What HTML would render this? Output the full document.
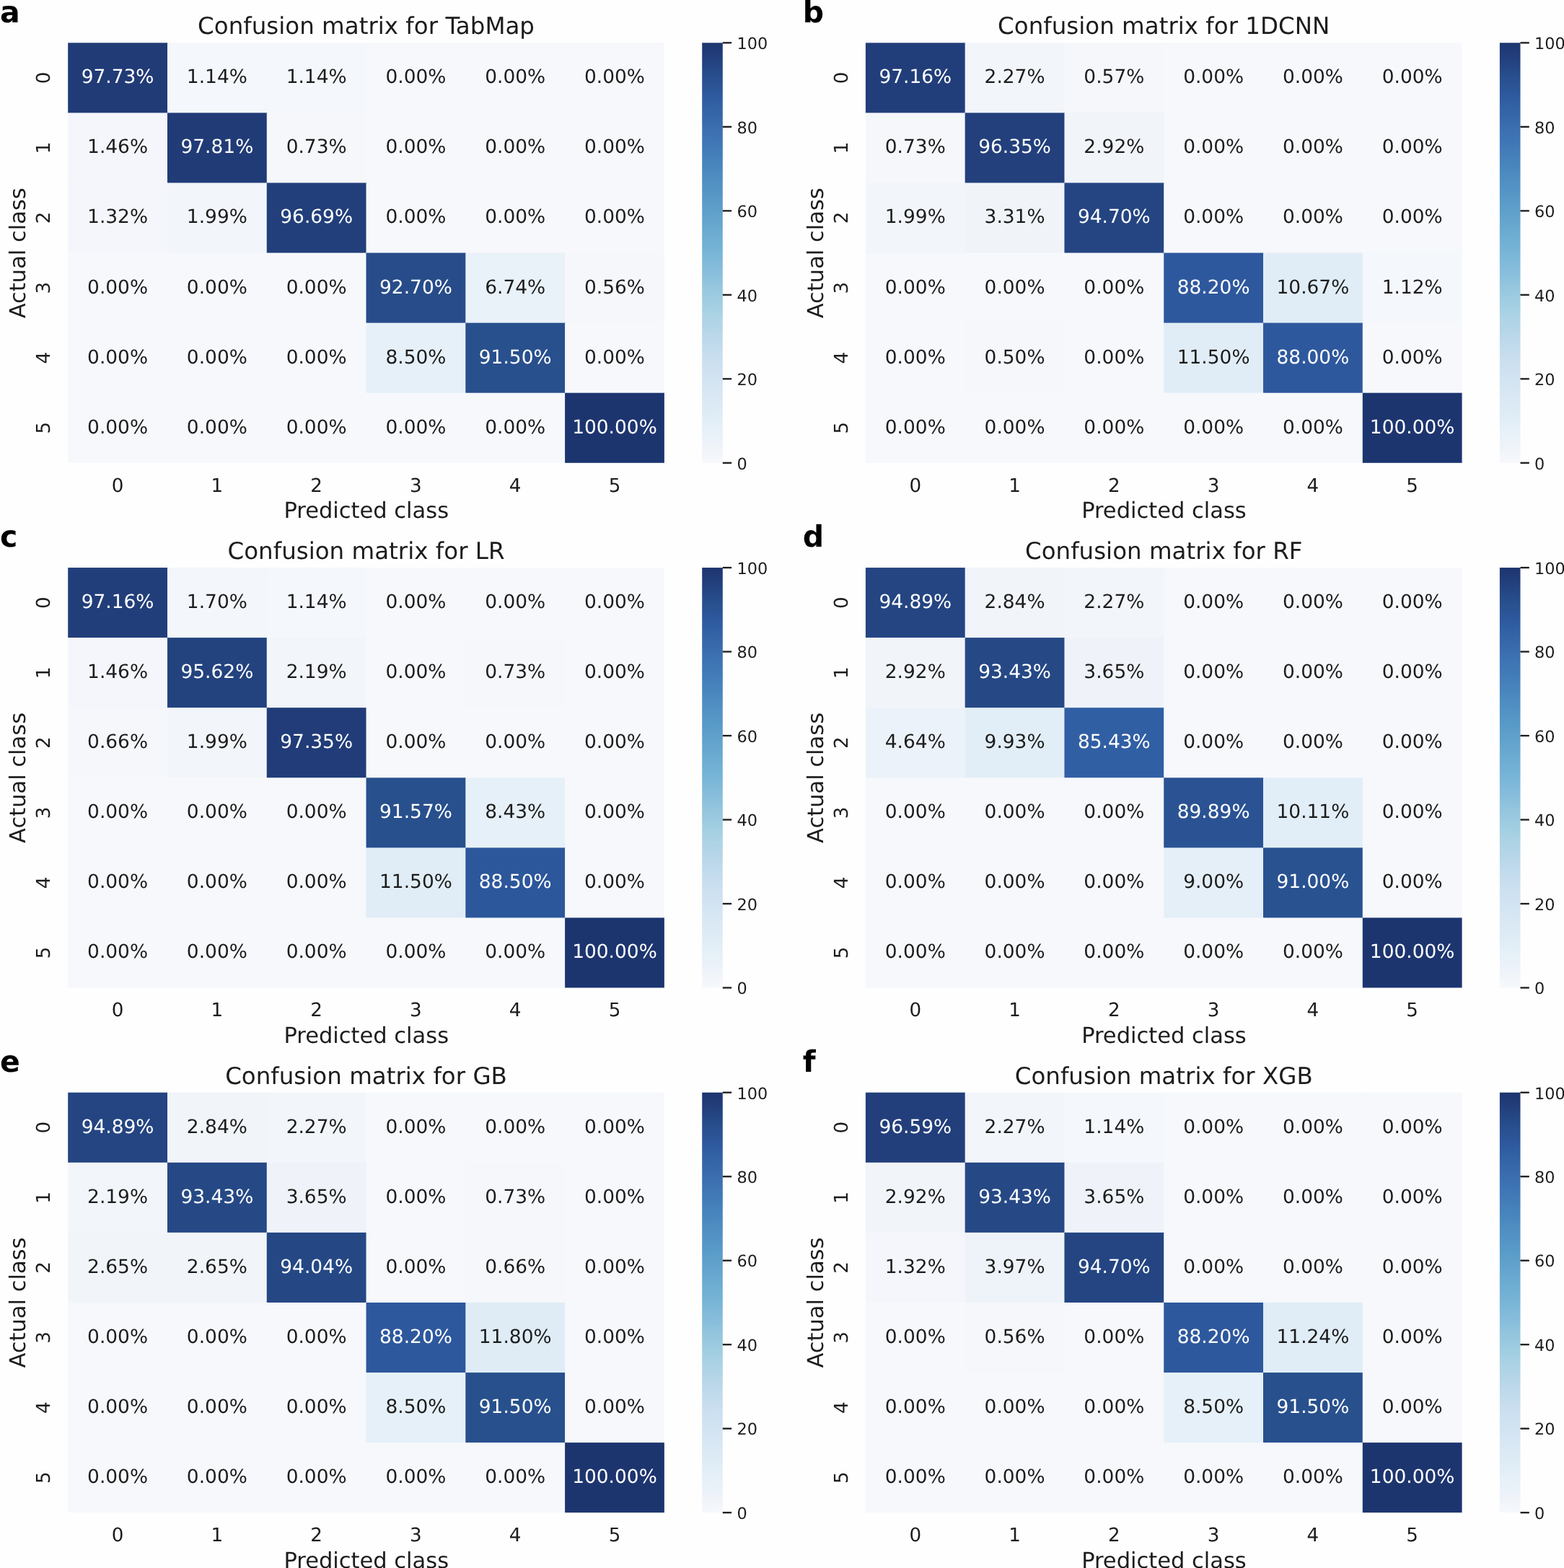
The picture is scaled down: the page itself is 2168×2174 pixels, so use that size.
<!DOCTYPE html>
<html><head><meta charset="utf-8"><title>Confusion matrices</title>
<style>
html,body{margin:0;padding:0;background:#fefefe;}
body{width:2168px;height:2174px;overflow:hidden;}
svg{display:block;}
text{font-family:"DejaVu Sans", "Liberation Sans", sans-serif;text-rendering:geometricPrecision;}
.an{font-size:26.45px;text-anchor:middle;}
.tk{font-size:26.20px;text-anchor:middle;fill:#1c1c1c;}
.lb{font-size:30.50px;text-anchor:middle;fill:#1c1c1c;}
.ti{font-size:32.50px;text-anchor:middle;fill:#1c1c1c;}
.cb{font-size:22.40px;fill:#1c1c1c;}
.pl{font-size:41.00px;font-weight:bold;fill:#000;}
</style></head><body>
<svg width="2168" height="2174" viewBox="0 0 2168 2174">
<rect x="0" y="0" width="2168" height="2174" fill="#fefefe"/>
<defs><linearGradient id="cbg" x1="0" y1="1" x2="0" y2="0">
<stop offset="0.0000" stop-color="#f6f8fc"/><stop offset="0.0250" stop-color="#f1f5f9"/><stop offset="0.0500" stop-color="#ecf2f9"/><stop offset="0.0750" stop-color="#e7f1f8"/><stop offset="0.1000" stop-color="#e2eef7"/><stop offset="0.1250" stop-color="#ddebf5"/><stop offset="0.1500" stop-color="#dae9f4"/><stop offset="0.1750" stop-color="#d6e6f3"/><stop offset="0.2000" stop-color="#d2e3f2"/><stop offset="0.2250" stop-color="#cee1f1"/><stop offset="0.2500" stop-color="#c9deef"/><stop offset="0.2750" stop-color="#c2dbed"/><stop offset="0.3000" stop-color="#bbd8ea"/><stop offset="0.3250" stop-color="#b3d5e7"/><stop offset="0.3500" stop-color="#acd3e5"/><stop offset="0.3750" stop-color="#a4cfe2"/><stop offset="0.4000" stop-color="#9bcae0"/><stop offset="0.4250" stop-color="#93c5de"/><stop offset="0.4500" stop-color="#8abfdc"/><stop offset="0.4750" stop-color="#82bada"/><stop offset="0.5000" stop-color="#78b5d7"/><stop offset="0.5250" stop-color="#72b0d4"/><stop offset="0.5500" stop-color="#6cabd1"/><stop offset="0.5750" stop-color="#65a5ce"/><stop offset="0.6000" stop-color="#5fa0cb"/><stop offset="0.6250" stop-color="#589ac8"/><stop offset="0.6500" stop-color="#5494c5"/><stop offset="0.6750" stop-color="#508ec2"/><stop offset="0.7000" stop-color="#4a87be"/><stop offset="0.7250" stop-color="#4681bb"/><stop offset="0.7500" stop-color="#417ab7"/><stop offset="0.7750" stop-color="#3e74b3"/><stop offset="0.8000" stop-color="#3b6eae"/><stop offset="0.8250" stop-color="#3667a9"/><stop offset="0.8500" stop-color="#3261a4"/><stop offset="0.8750" stop-color="#2e599f"/><stop offset="0.9000" stop-color="#2b5394"/><stop offset="0.9250" stop-color="#274d8b"/><stop offset="0.9500" stop-color="#244481"/><stop offset="0.9750" stop-color="#213c78"/><stop offset="1.0000" stop-color="#1d356f"/>
</linearGradient></defs>
<g>
<rect x="94.20" y="59.35" width="138.38" height="97.67" fill="#213b77"/><rect x="231.98" y="59.35" width="138.38" height="97.67" fill="#f4f7fb"/><rect x="369.76" y="59.35" width="138.38" height="97.67" fill="#f4f7fb"/><rect x="507.54" y="59.35" width="138.38" height="97.67" fill="#f6f8fc"/><rect x="645.32" y="59.35" width="138.38" height="97.67" fill="#f6f8fc"/><rect x="783.10" y="59.35" width="137.78" height="97.67" fill="#f6f8fc"/><rect x="94.20" y="156.43" width="138.38" height="97.67" fill="#f4f6fb"/><rect x="231.98" y="156.43" width="138.38" height="97.67" fill="#213b77"/><rect x="369.76" y="156.43" width="138.38" height="97.67" fill="#f5f7fb"/><rect x="507.54" y="156.43" width="138.38" height="97.67" fill="#f6f8fc"/><rect x="645.32" y="156.43" width="138.38" height="97.67" fill="#f6f8fc"/><rect x="783.10" y="156.43" width="137.78" height="97.67" fill="#f6f8fc"/><rect x="94.20" y="253.50" width="138.38" height="97.67" fill="#f4f6fb"/><rect x="231.98" y="253.50" width="138.38" height="97.67" fill="#f2f5fa"/><rect x="369.76" y="253.50" width="138.38" height="97.67" fill="#223f7b"/><rect x="507.54" y="253.50" width="138.38" height="97.67" fill="#f6f8fc"/><rect x="645.32" y="253.50" width="138.38" height="97.67" fill="#f6f8fc"/><rect x="783.10" y="253.50" width="137.78" height="97.67" fill="#f6f8fc"/><rect x="94.20" y="350.58" width="138.38" height="97.67" fill="#f6f8fc"/><rect x="231.98" y="350.58" width="138.38" height="97.67" fill="#f6f8fc"/><rect x="369.76" y="350.58" width="138.38" height="97.67" fill="#f6f8fc"/><rect x="507.54" y="350.58" width="138.38" height="97.67" fill="#274c89"/><rect x="645.32" y="350.58" width="138.38" height="97.67" fill="#e9f1f9"/><rect x="783.10" y="350.58" width="137.78" height="97.67" fill="#f5f7fb"/><rect x="94.20" y="447.65" width="138.38" height="97.67" fill="#f6f8fc"/><rect x="231.98" y="447.65" width="138.38" height="97.67" fill="#f6f8fc"/><rect x="369.76" y="447.65" width="138.38" height="97.67" fill="#f6f8fc"/><rect x="507.54" y="447.65" width="138.38" height="97.67" fill="#e6f0f8"/><rect x="645.32" y="447.65" width="138.38" height="97.67" fill="#28508d"/><rect x="783.10" y="447.65" width="137.78" height="97.67" fill="#f6f8fc"/><rect x="94.20" y="544.73" width="138.38" height="97.08" fill="#f6f8fc"/><rect x="231.98" y="544.73" width="138.38" height="97.08" fill="#f6f8fc"/><rect x="369.76" y="544.73" width="138.38" height="97.08" fill="#f6f8fc"/><rect x="507.54" y="544.73" width="138.38" height="97.08" fill="#f6f8fc"/><rect x="645.32" y="544.73" width="138.38" height="97.08" fill="#f6f8fc"/><rect x="783.10" y="544.73" width="137.78" height="97.08" fill="#1d356f"/>
<text class="an" x="163.09" y="115.34" fill="#ffffff">97.73%</text><text class="an" x="300.87" y="115.34" fill="#1c1c1c">1.14%</text><text class="an" x="438.65" y="115.34" fill="#1c1c1c">1.14%</text><text class="an" x="576.43" y="115.34" fill="#1c1c1c">0.00%</text><text class="an" x="714.21" y="115.34" fill="#1c1c1c">0.00%</text><text class="an" x="851.99" y="115.34" fill="#1c1c1c">0.00%</text>
<text class="an" x="163.09" y="212.41" fill="#1c1c1c">1.46%</text><text class="an" x="300.87" y="212.41" fill="#ffffff">97.81%</text><text class="an" x="438.65" y="212.41" fill="#1c1c1c">0.73%</text><text class="an" x="576.43" y="212.41" fill="#1c1c1c">0.00%</text><text class="an" x="714.21" y="212.41" fill="#1c1c1c">0.00%</text><text class="an" x="851.99" y="212.41" fill="#1c1c1c">0.00%</text>
<text class="an" x="163.09" y="309.49" fill="#1c1c1c">1.32%</text><text class="an" x="300.87" y="309.49" fill="#1c1c1c">1.99%</text><text class="an" x="438.65" y="309.49" fill="#ffffff">96.69%</text><text class="an" x="576.43" y="309.49" fill="#1c1c1c">0.00%</text><text class="an" x="714.21" y="309.49" fill="#1c1c1c">0.00%</text><text class="an" x="851.99" y="309.49" fill="#1c1c1c">0.00%</text>
<text class="an" x="163.09" y="406.56" fill="#1c1c1c">0.00%</text><text class="an" x="300.87" y="406.56" fill="#1c1c1c">0.00%</text><text class="an" x="438.65" y="406.56" fill="#1c1c1c">0.00%</text><text class="an" x="576.43" y="406.56" fill="#ffffff">92.70%</text><text class="an" x="714.21" y="406.56" fill="#1c1c1c">6.74%</text><text class="an" x="851.99" y="406.56" fill="#1c1c1c">0.56%</text>
<text class="an" x="163.09" y="503.64" fill="#1c1c1c">0.00%</text><text class="an" x="300.87" y="503.64" fill="#1c1c1c">0.00%</text><text class="an" x="438.65" y="503.64" fill="#1c1c1c">0.00%</text><text class="an" x="576.43" y="503.64" fill="#1c1c1c">8.50%</text><text class="an" x="714.21" y="503.64" fill="#ffffff">91.50%</text><text class="an" x="851.99" y="503.64" fill="#1c1c1c">0.00%</text>
<text class="an" x="163.09" y="600.71" fill="#1c1c1c">0.00%</text><text class="an" x="300.87" y="600.71" fill="#1c1c1c">0.00%</text><text class="an" x="438.65" y="600.71" fill="#1c1c1c">0.00%</text><text class="an" x="576.43" y="600.71" fill="#1c1c1c">0.00%</text><text class="an" x="714.21" y="600.71" fill="#1c1c1c">0.00%</text><text class="an" x="851.99" y="600.71" fill="#ffffff">100.00%</text>
<text class="tk" x="163.09" y="681.60">0</text><text class="tk" x="300.87" y="681.60">1</text><text class="tk" x="438.65" y="681.60">2</text><text class="tk" x="576.43" y="681.60">3</text><text class="tk" x="714.21" y="681.60">4</text><text class="tk" x="851.99" y="681.60">5</text>
<text class="tk" transform="translate(69.43 107.89) rotate(-90)" x="0" y="0">0</text><text class="tk" transform="translate(69.43 204.96) rotate(-90)" x="0" y="0">1</text><text class="tk" transform="translate(69.43 302.04) rotate(-90)" x="0" y="0">2</text><text class="tk" transform="translate(69.43 399.11) rotate(-90)" x="0" y="0">3</text><text class="tk" transform="translate(69.43 496.19) rotate(-90)" x="0" y="0">4</text><text class="tk" transform="translate(69.43 593.26) rotate(-90)" x="0" y="0">5</text>
<text class="lb" x="507.74" y="718.10">Predicted class</text>
<text class="lb" transform="translate(34.90 350.73) rotate(-90)" x="0" y="0">Actual class</text>
<text class="ti" x="507.54" y="47.43">Confusion matrix for TabMap</text>
<rect x="973.20" y="59.35" width="28.60" height="582.45" fill="url(#cbg)"/>
<rect x="1001.80" y="640.65" width="12.30" height="2.30" fill="#1c1c1c"/><text class="cb" x="1021.40" y="650.55">0</text><rect x="1001.80" y="524.16" width="12.30" height="2.30" fill="#1c1c1c"/><text class="cb" x="1021.40" y="534.06">20</text><rect x="1001.80" y="407.67" width="12.30" height="2.30" fill="#1c1c1c"/><text class="cb" x="1021.40" y="417.57">40</text><rect x="1001.80" y="291.18" width="12.30" height="2.30" fill="#1c1c1c"/><text class="cb" x="1021.40" y="301.08">60</text><rect x="1001.80" y="174.69" width="12.30" height="2.30" fill="#1c1c1c"/><text class="cb" x="1021.40" y="184.59">80</text><rect x="1001.80" y="58.20" width="12.30" height="2.30" fill="#1c1c1c"/><text class="cb" x="1021.40" y="68.10">100</text>
<text class="pl" x="-0.14" y="30.75">a</text>
</g>
<g>
<rect x="1199.90" y="59.35" width="138.38" height="97.67" fill="#223e7a"/><rect x="1337.68" y="59.35" width="138.38" height="97.67" fill="#f2f5fa"/><rect x="1475.46" y="59.35" width="138.38" height="97.67" fill="#f5f7fb"/><rect x="1613.24" y="59.35" width="138.38" height="97.67" fill="#f6f8fc"/><rect x="1751.02" y="59.35" width="138.38" height="97.67" fill="#f6f8fc"/><rect x="1888.80" y="59.35" width="137.78" height="97.67" fill="#f6f8fc"/><rect x="1199.90" y="156.43" width="138.38" height="97.67" fill="#f5f7fb"/><rect x="1337.68" y="156.43" width="138.38" height="97.67" fill="#23407c"/><rect x="1475.46" y="156.43" width="138.38" height="97.67" fill="#f1f4f9"/><rect x="1613.24" y="156.43" width="138.38" height="97.67" fill="#f6f8fc"/><rect x="1751.02" y="156.43" width="138.38" height="97.67" fill="#f6f8fc"/><rect x="1888.80" y="156.43" width="137.78" height="97.67" fill="#f6f8fc"/><rect x="1199.90" y="253.50" width="138.38" height="97.67" fill="#f2f5fa"/><rect x="1337.68" y="253.50" width="138.38" height="97.67" fill="#f0f4f9"/><rect x="1475.46" y="253.50" width="138.38" height="97.67" fill="#244582"/><rect x="1613.24" y="253.50" width="138.38" height="97.67" fill="#f6f8fc"/><rect x="1751.02" y="253.50" width="138.38" height="97.67" fill="#f6f8fc"/><rect x="1888.80" y="253.50" width="137.78" height="97.67" fill="#f6f8fc"/><rect x="1199.90" y="350.58" width="138.38" height="97.67" fill="#f6f8fc"/><rect x="1337.68" y="350.58" width="138.38" height="97.67" fill="#f6f8fc"/><rect x="1475.46" y="350.58" width="138.38" height="97.67" fill="#f6f8fc"/><rect x="1613.24" y="350.58" width="138.38" height="97.67" fill="#2e589d"/><rect x="1751.02" y="350.58" width="138.38" height="97.67" fill="#e1edf6"/><rect x="1888.80" y="350.58" width="137.78" height="97.67" fill="#f4f7fb"/><rect x="1199.90" y="447.65" width="138.38" height="97.67" fill="#f6f8fc"/><rect x="1337.68" y="447.65" width="138.38" height="97.67" fill="#f5f7fb"/><rect x="1475.46" y="447.65" width="138.38" height="97.67" fill="#f6f8fc"/><rect x="1613.24" y="447.65" width="138.38" height="97.67" fill="#e0edf6"/><rect x="1751.02" y="447.65" width="138.38" height="97.67" fill="#2e589d"/><rect x="1888.80" y="447.65" width="137.78" height="97.67" fill="#f6f8fc"/><rect x="1199.90" y="544.73" width="138.38" height="97.08" fill="#f6f8fc"/><rect x="1337.68" y="544.73" width="138.38" height="97.08" fill="#f6f8fc"/><rect x="1475.46" y="544.73" width="138.38" height="97.08" fill="#f6f8fc"/><rect x="1613.24" y="544.73" width="138.38" height="97.08" fill="#f6f8fc"/><rect x="1751.02" y="544.73" width="138.38" height="97.08" fill="#f6f8fc"/><rect x="1888.80" y="544.73" width="137.78" height="97.08" fill="#1d356f"/>
<text class="an" x="1268.79" y="115.34" fill="#ffffff">97.16%</text><text class="an" x="1406.57" y="115.34" fill="#1c1c1c">2.27%</text><text class="an" x="1544.35" y="115.34" fill="#1c1c1c">0.57%</text><text class="an" x="1682.13" y="115.34" fill="#1c1c1c">0.00%</text><text class="an" x="1819.91" y="115.34" fill="#1c1c1c">0.00%</text><text class="an" x="1957.69" y="115.34" fill="#1c1c1c">0.00%</text>
<text class="an" x="1268.79" y="212.41" fill="#1c1c1c">0.73%</text><text class="an" x="1406.57" y="212.41" fill="#ffffff">96.35%</text><text class="an" x="1544.35" y="212.41" fill="#1c1c1c">2.92%</text><text class="an" x="1682.13" y="212.41" fill="#1c1c1c">0.00%</text><text class="an" x="1819.91" y="212.41" fill="#1c1c1c">0.00%</text><text class="an" x="1957.69" y="212.41" fill="#1c1c1c">0.00%</text>
<text class="an" x="1268.79" y="309.49" fill="#1c1c1c">1.99%</text><text class="an" x="1406.57" y="309.49" fill="#1c1c1c">3.31%</text><text class="an" x="1544.35" y="309.49" fill="#ffffff">94.70%</text><text class="an" x="1682.13" y="309.49" fill="#1c1c1c">0.00%</text><text class="an" x="1819.91" y="309.49" fill="#1c1c1c">0.00%</text><text class="an" x="1957.69" y="309.49" fill="#1c1c1c">0.00%</text>
<text class="an" x="1268.79" y="406.56" fill="#1c1c1c">0.00%</text><text class="an" x="1406.57" y="406.56" fill="#1c1c1c">0.00%</text><text class="an" x="1544.35" y="406.56" fill="#1c1c1c">0.00%</text><text class="an" x="1682.13" y="406.56" fill="#ffffff">88.20%</text><text class="an" x="1819.91" y="406.56" fill="#1c1c1c">10.67%</text><text class="an" x="1957.69" y="406.56" fill="#1c1c1c">1.12%</text>
<text class="an" x="1268.79" y="503.64" fill="#1c1c1c">0.00%</text><text class="an" x="1406.57" y="503.64" fill="#1c1c1c">0.50%</text><text class="an" x="1544.35" y="503.64" fill="#1c1c1c">0.00%</text><text class="an" x="1682.13" y="503.64" fill="#1c1c1c">11.50%</text><text class="an" x="1819.91" y="503.64" fill="#ffffff">88.00%</text><text class="an" x="1957.69" y="503.64" fill="#1c1c1c">0.00%</text>
<text class="an" x="1268.79" y="600.71" fill="#1c1c1c">0.00%</text><text class="an" x="1406.57" y="600.71" fill="#1c1c1c">0.00%</text><text class="an" x="1544.35" y="600.71" fill="#1c1c1c">0.00%</text><text class="an" x="1682.13" y="600.71" fill="#1c1c1c">0.00%</text><text class="an" x="1819.91" y="600.71" fill="#1c1c1c">0.00%</text><text class="an" x="1957.69" y="600.71" fill="#ffffff">100.00%</text>
<text class="tk" x="1268.79" y="681.60">0</text><text class="tk" x="1406.57" y="681.60">1</text><text class="tk" x="1544.35" y="681.60">2</text><text class="tk" x="1682.13" y="681.60">3</text><text class="tk" x="1819.91" y="681.60">4</text><text class="tk" x="1957.69" y="681.60">5</text>
<text class="tk" transform="translate(1175.13 107.89) rotate(-90)" x="0" y="0">0</text><text class="tk" transform="translate(1175.13 204.96) rotate(-90)" x="0" y="0">1</text><text class="tk" transform="translate(1175.13 302.04) rotate(-90)" x="0" y="0">2</text><text class="tk" transform="translate(1175.13 399.11) rotate(-90)" x="0" y="0">3</text><text class="tk" transform="translate(1175.13 496.19) rotate(-90)" x="0" y="0">4</text><text class="tk" transform="translate(1175.13 593.26) rotate(-90)" x="0" y="0">5</text>
<text class="lb" x="1613.44" y="718.10">Predicted class</text>
<text class="lb" transform="translate(1140.60 350.73) rotate(-90)" x="0" y="0">Actual class</text>
<text class="ti" x="1613.24" y="47.43">Confusion matrix for 1DCNN</text>
<rect x="2078.90" y="59.35" width="28.60" height="582.45" fill="url(#cbg)"/>
<rect x="2107.50" y="640.65" width="12.30" height="2.30" fill="#1c1c1c"/><text class="cb" x="2127.10" y="650.55">0</text><rect x="2107.50" y="524.16" width="12.30" height="2.30" fill="#1c1c1c"/><text class="cb" x="2127.10" y="534.06">20</text><rect x="2107.50" y="407.67" width="12.30" height="2.30" fill="#1c1c1c"/><text class="cb" x="2127.10" y="417.57">40</text><rect x="2107.50" y="291.18" width="12.30" height="2.30" fill="#1c1c1c"/><text class="cb" x="2127.10" y="301.08">60</text><rect x="2107.50" y="174.69" width="12.30" height="2.30" fill="#1c1c1c"/><text class="cb" x="2127.10" y="184.59">80</text><rect x="2107.50" y="58.20" width="12.30" height="2.30" fill="#1c1c1c"/><text class="cb" x="2127.10" y="68.10">100</text>
<text class="pl" x="1112.85" y="30.75">b</text>
</g>
<g>
<rect x="94.20" y="787.05" width="138.38" height="97.67" fill="#223e7a"/><rect x="231.98" y="787.05" width="138.38" height="97.67" fill="#f3f6fa"/><rect x="369.76" y="787.05" width="138.38" height="97.67" fill="#f4f7fb"/><rect x="507.54" y="787.05" width="138.38" height="97.67" fill="#f6f8fc"/><rect x="645.32" y="787.05" width="138.38" height="97.67" fill="#f6f8fc"/><rect x="783.10" y="787.05" width="137.78" height="97.67" fill="#f6f8fc"/><rect x="94.20" y="884.12" width="138.38" height="97.67" fill="#f4f6fb"/><rect x="231.98" y="884.12" width="138.38" height="97.67" fill="#23437f"/><rect x="369.76" y="884.12" width="138.38" height="97.67" fill="#f2f5fa"/><rect x="507.54" y="884.12" width="138.38" height="97.67" fill="#f6f8fc"/><rect x="645.32" y="884.12" width="138.38" height="97.67" fill="#f5f7fb"/><rect x="783.10" y="884.12" width="137.78" height="97.67" fill="#f6f8fc"/><rect x="94.20" y="981.20" width="138.38" height="97.67" fill="#f5f7fb"/><rect x="231.98" y="981.20" width="138.38" height="97.67" fill="#f2f5fa"/><rect x="369.76" y="981.20" width="138.38" height="97.67" fill="#213c78"/><rect x="507.54" y="981.20" width="138.38" height="97.67" fill="#f6f8fc"/><rect x="645.32" y="981.20" width="138.38" height="97.67" fill="#f6f8fc"/><rect x="783.10" y="981.20" width="137.78" height="97.67" fill="#f6f8fc"/><rect x="94.20" y="1078.28" width="138.38" height="97.67" fill="#f6f8fc"/><rect x="231.98" y="1078.28" width="138.38" height="97.67" fill="#f6f8fc"/><rect x="369.76" y="1078.28" width="138.38" height="97.67" fill="#f6f8fc"/><rect x="507.54" y="1078.28" width="138.38" height="97.67" fill="#28508d"/><rect x="645.32" y="1078.28" width="138.38" height="97.67" fill="#e6f0f8"/><rect x="783.10" y="1078.28" width="137.78" height="97.67" fill="#f6f8fc"/><rect x="94.20" y="1175.35" width="138.38" height="97.67" fill="#f6f8fc"/><rect x="231.98" y="1175.35" width="138.38" height="97.67" fill="#f6f8fc"/><rect x="369.76" y="1175.35" width="138.38" height="97.67" fill="#f6f8fc"/><rect x="507.54" y="1175.35" width="138.38" height="97.67" fill="#e0edf6"/><rect x="645.32" y="1175.35" width="138.38" height="97.67" fill="#2d579b"/><rect x="783.10" y="1175.35" width="137.78" height="97.67" fill="#f6f8fc"/><rect x="94.20" y="1272.42" width="138.38" height="97.08" fill="#f6f8fc"/><rect x="231.98" y="1272.42" width="138.38" height="97.08" fill="#f6f8fc"/><rect x="369.76" y="1272.42" width="138.38" height="97.08" fill="#f6f8fc"/><rect x="507.54" y="1272.42" width="138.38" height="97.08" fill="#f6f8fc"/><rect x="645.32" y="1272.42" width="138.38" height="97.08" fill="#f6f8fc"/><rect x="783.10" y="1272.42" width="137.78" height="97.08" fill="#1d356f"/>
<text class="an" x="163.09" y="843.04" fill="#ffffff">97.16%</text><text class="an" x="300.87" y="843.04" fill="#1c1c1c">1.70%</text><text class="an" x="438.65" y="843.04" fill="#1c1c1c">1.14%</text><text class="an" x="576.43" y="843.04" fill="#1c1c1c">0.00%</text><text class="an" x="714.21" y="843.04" fill="#1c1c1c">0.00%</text><text class="an" x="851.99" y="843.04" fill="#1c1c1c">0.00%</text>
<text class="an" x="163.09" y="940.11" fill="#1c1c1c">1.46%</text><text class="an" x="300.87" y="940.11" fill="#ffffff">95.62%</text><text class="an" x="438.65" y="940.11" fill="#1c1c1c">2.19%</text><text class="an" x="576.43" y="940.11" fill="#1c1c1c">0.00%</text><text class="an" x="714.21" y="940.11" fill="#1c1c1c">0.73%</text><text class="an" x="851.99" y="940.11" fill="#1c1c1c">0.00%</text>
<text class="an" x="163.09" y="1037.19" fill="#1c1c1c">0.66%</text><text class="an" x="300.87" y="1037.19" fill="#1c1c1c">1.99%</text><text class="an" x="438.65" y="1037.19" fill="#ffffff">97.35%</text><text class="an" x="576.43" y="1037.19" fill="#1c1c1c">0.00%</text><text class="an" x="714.21" y="1037.19" fill="#1c1c1c">0.00%</text><text class="an" x="851.99" y="1037.19" fill="#1c1c1c">0.00%</text>
<text class="an" x="163.09" y="1134.26" fill="#1c1c1c">0.00%</text><text class="an" x="300.87" y="1134.26" fill="#1c1c1c">0.00%</text><text class="an" x="438.65" y="1134.26" fill="#1c1c1c">0.00%</text><text class="an" x="576.43" y="1134.26" fill="#ffffff">91.57%</text><text class="an" x="714.21" y="1134.26" fill="#1c1c1c">8.43%</text><text class="an" x="851.99" y="1134.26" fill="#1c1c1c">0.00%</text>
<text class="an" x="163.09" y="1231.34" fill="#1c1c1c">0.00%</text><text class="an" x="300.87" y="1231.34" fill="#1c1c1c">0.00%</text><text class="an" x="438.65" y="1231.34" fill="#1c1c1c">0.00%</text><text class="an" x="576.43" y="1231.34" fill="#1c1c1c">11.50%</text><text class="an" x="714.21" y="1231.34" fill="#ffffff">88.50%</text><text class="an" x="851.99" y="1231.34" fill="#1c1c1c">0.00%</text>
<text class="an" x="163.09" y="1328.41" fill="#1c1c1c">0.00%</text><text class="an" x="300.87" y="1328.41" fill="#1c1c1c">0.00%</text><text class="an" x="438.65" y="1328.41" fill="#1c1c1c">0.00%</text><text class="an" x="576.43" y="1328.41" fill="#1c1c1c">0.00%</text><text class="an" x="714.21" y="1328.41" fill="#1c1c1c">0.00%</text><text class="an" x="851.99" y="1328.41" fill="#ffffff">100.00%</text>
<text class="tk" x="163.09" y="1409.30">0</text><text class="tk" x="300.87" y="1409.30">1</text><text class="tk" x="438.65" y="1409.30">2</text><text class="tk" x="576.43" y="1409.30">3</text><text class="tk" x="714.21" y="1409.30">4</text><text class="tk" x="851.99" y="1409.30">5</text>
<text class="tk" transform="translate(69.43 835.59) rotate(-90)" x="0" y="0">0</text><text class="tk" transform="translate(69.43 932.66) rotate(-90)" x="0" y="0">1</text><text class="tk" transform="translate(69.43 1029.74) rotate(-90)" x="0" y="0">2</text><text class="tk" transform="translate(69.43 1126.81) rotate(-90)" x="0" y="0">3</text><text class="tk" transform="translate(69.43 1223.89) rotate(-90)" x="0" y="0">4</text><text class="tk" transform="translate(69.43 1320.96) rotate(-90)" x="0" y="0">5</text>
<text class="lb" x="507.74" y="1445.80">Predicted class</text>
<text class="lb" transform="translate(34.90 1078.43) rotate(-90)" x="0" y="0">Actual class</text>
<text class="ti" x="507.54" y="775.13">Confusion matrix for LR</text>
<rect x="973.20" y="787.05" width="28.60" height="582.45" fill="url(#cbg)"/>
<rect x="1001.80" y="1368.35" width="12.30" height="2.30" fill="#1c1c1c"/><text class="cb" x="1021.40" y="1378.25">0</text><rect x="1001.80" y="1251.86" width="12.30" height="2.30" fill="#1c1c1c"/><text class="cb" x="1021.40" y="1261.76">20</text><rect x="1001.80" y="1135.37" width="12.30" height="2.30" fill="#1c1c1c"/><text class="cb" x="1021.40" y="1145.27">40</text><rect x="1001.80" y="1018.88" width="12.30" height="2.30" fill="#1c1c1c"/><text class="cb" x="1021.40" y="1028.78">60</text><rect x="1001.80" y="902.39" width="12.30" height="2.30" fill="#1c1c1c"/><text class="cb" x="1021.40" y="912.29">80</text><rect x="1001.80" y="785.90" width="12.30" height="2.30" fill="#1c1c1c"/><text class="cb" x="1021.40" y="795.80">100</text>
<text class="pl" x="-0.14" y="758.45">c</text>
</g>
<g>
<rect x="1199.90" y="787.05" width="138.38" height="97.67" fill="#244582"/><rect x="1337.68" y="787.05" width="138.38" height="97.67" fill="#f1f4f9"/><rect x="1475.46" y="787.05" width="138.38" height="97.67" fill="#f2f5fa"/><rect x="1613.24" y="787.05" width="138.38" height="97.67" fill="#f6f8fc"/><rect x="1751.02" y="787.05" width="138.38" height="97.67" fill="#f6f8fc"/><rect x="1888.80" y="787.05" width="137.78" height="97.67" fill="#f6f8fc"/><rect x="1199.90" y="884.12" width="138.38" height="97.67" fill="#f1f4f9"/><rect x="1337.68" y="884.12" width="138.38" height="97.67" fill="#264986"/><rect x="1475.46" y="884.12" width="138.38" height="97.67" fill="#eff3f9"/><rect x="1613.24" y="884.12" width="138.38" height="97.67" fill="#f6f8fc"/><rect x="1751.02" y="884.12" width="138.38" height="97.67" fill="#f6f8fc"/><rect x="1888.80" y="884.12" width="137.78" height="97.67" fill="#f6f8fc"/><rect x="1199.90" y="981.20" width="138.38" height="97.67" fill="#ecf2f9"/><rect x="1337.68" y="981.20" width="138.38" height="97.67" fill="#e2eef7"/><rect x="1475.46" y="981.20" width="138.38" height="97.67" fill="#315fa4"/><rect x="1613.24" y="981.20" width="138.38" height="97.67" fill="#f6f8fc"/><rect x="1751.02" y="981.20" width="138.38" height="97.67" fill="#f6f8fc"/><rect x="1888.80" y="981.20" width="137.78" height="97.67" fill="#f6f8fc"/><rect x="1199.90" y="1078.28" width="138.38" height="97.67" fill="#f6f8fc"/><rect x="1337.68" y="1078.28" width="138.38" height="97.67" fill="#f6f8fc"/><rect x="1475.46" y="1078.28" width="138.38" height="97.67" fill="#f6f8fc"/><rect x="1613.24" y="1078.28" width="138.38" height="97.67" fill="#2b5394"/><rect x="1751.02" y="1078.28" width="138.38" height="97.67" fill="#e2eef7"/><rect x="1888.80" y="1078.28" width="137.78" height="97.67" fill="#f6f8fc"/><rect x="1199.90" y="1175.35" width="138.38" height="97.67" fill="#f6f8fc"/><rect x="1337.68" y="1175.35" width="138.38" height="97.67" fill="#f6f8fc"/><rect x="1475.46" y="1175.35" width="138.38" height="97.67" fill="#f6f8fc"/><rect x="1613.24" y="1175.35" width="138.38" height="97.67" fill="#e4eff7"/><rect x="1751.02" y="1175.35" width="138.38" height="97.67" fill="#295291"/><rect x="1888.80" y="1175.35" width="137.78" height="97.67" fill="#f6f8fc"/><rect x="1199.90" y="1272.42" width="138.38" height="97.08" fill="#f6f8fc"/><rect x="1337.68" y="1272.42" width="138.38" height="97.08" fill="#f6f8fc"/><rect x="1475.46" y="1272.42" width="138.38" height="97.08" fill="#f6f8fc"/><rect x="1613.24" y="1272.42" width="138.38" height="97.08" fill="#f6f8fc"/><rect x="1751.02" y="1272.42" width="138.38" height="97.08" fill="#f6f8fc"/><rect x="1888.80" y="1272.42" width="137.78" height="97.08" fill="#1d356f"/>
<text class="an" x="1268.79" y="843.04" fill="#ffffff">94.89%</text><text class="an" x="1406.57" y="843.04" fill="#1c1c1c">2.84%</text><text class="an" x="1544.35" y="843.04" fill="#1c1c1c">2.27%</text><text class="an" x="1682.13" y="843.04" fill="#1c1c1c">0.00%</text><text class="an" x="1819.91" y="843.04" fill="#1c1c1c">0.00%</text><text class="an" x="1957.69" y="843.04" fill="#1c1c1c">0.00%</text>
<text class="an" x="1268.79" y="940.11" fill="#1c1c1c">2.92%</text><text class="an" x="1406.57" y="940.11" fill="#ffffff">93.43%</text><text class="an" x="1544.35" y="940.11" fill="#1c1c1c">3.65%</text><text class="an" x="1682.13" y="940.11" fill="#1c1c1c">0.00%</text><text class="an" x="1819.91" y="940.11" fill="#1c1c1c">0.00%</text><text class="an" x="1957.69" y="940.11" fill="#1c1c1c">0.00%</text>
<text class="an" x="1268.79" y="1037.19" fill="#1c1c1c">4.64%</text><text class="an" x="1406.57" y="1037.19" fill="#1c1c1c">9.93%</text><text class="an" x="1544.35" y="1037.19" fill="#ffffff">85.43%</text><text class="an" x="1682.13" y="1037.19" fill="#1c1c1c">0.00%</text><text class="an" x="1819.91" y="1037.19" fill="#1c1c1c">0.00%</text><text class="an" x="1957.69" y="1037.19" fill="#1c1c1c">0.00%</text>
<text class="an" x="1268.79" y="1134.26" fill="#1c1c1c">0.00%</text><text class="an" x="1406.57" y="1134.26" fill="#1c1c1c">0.00%</text><text class="an" x="1544.35" y="1134.26" fill="#1c1c1c">0.00%</text><text class="an" x="1682.13" y="1134.26" fill="#ffffff">89.89%</text><text class="an" x="1819.91" y="1134.26" fill="#1c1c1c">10.11%</text><text class="an" x="1957.69" y="1134.26" fill="#1c1c1c">0.00%</text>
<text class="an" x="1268.79" y="1231.34" fill="#1c1c1c">0.00%</text><text class="an" x="1406.57" y="1231.34" fill="#1c1c1c">0.00%</text><text class="an" x="1544.35" y="1231.34" fill="#1c1c1c">0.00%</text><text class="an" x="1682.13" y="1231.34" fill="#1c1c1c">9.00%</text><text class="an" x="1819.91" y="1231.34" fill="#ffffff">91.00%</text><text class="an" x="1957.69" y="1231.34" fill="#1c1c1c">0.00%</text>
<text class="an" x="1268.79" y="1328.41" fill="#1c1c1c">0.00%</text><text class="an" x="1406.57" y="1328.41" fill="#1c1c1c">0.00%</text><text class="an" x="1544.35" y="1328.41" fill="#1c1c1c">0.00%</text><text class="an" x="1682.13" y="1328.41" fill="#1c1c1c">0.00%</text><text class="an" x="1819.91" y="1328.41" fill="#1c1c1c">0.00%</text><text class="an" x="1957.69" y="1328.41" fill="#ffffff">100.00%</text>
<text class="tk" x="1268.79" y="1409.30">0</text><text class="tk" x="1406.57" y="1409.30">1</text><text class="tk" x="1544.35" y="1409.30">2</text><text class="tk" x="1682.13" y="1409.30">3</text><text class="tk" x="1819.91" y="1409.30">4</text><text class="tk" x="1957.69" y="1409.30">5</text>
<text class="tk" transform="translate(1175.13 835.59) rotate(-90)" x="0" y="0">0</text><text class="tk" transform="translate(1175.13 932.66) rotate(-90)" x="0" y="0">1</text><text class="tk" transform="translate(1175.13 1029.74) rotate(-90)" x="0" y="0">2</text><text class="tk" transform="translate(1175.13 1126.81) rotate(-90)" x="0" y="0">3</text><text class="tk" transform="translate(1175.13 1223.89) rotate(-90)" x="0" y="0">4</text><text class="tk" transform="translate(1175.13 1320.96) rotate(-90)" x="0" y="0">5</text>
<text class="lb" x="1613.44" y="1445.80">Predicted class</text>
<text class="lb" transform="translate(1140.60 1078.43) rotate(-90)" x="0" y="0">Actual class</text>
<text class="ti" x="1613.24" y="775.13">Confusion matrix for RF</text>
<rect x="2078.90" y="787.05" width="28.60" height="582.45" fill="url(#cbg)"/>
<rect x="2107.50" y="1368.35" width="12.30" height="2.30" fill="#1c1c1c"/><text class="cb" x="2127.10" y="1378.25">0</text><rect x="2107.50" y="1251.86" width="12.30" height="2.30" fill="#1c1c1c"/><text class="cb" x="2127.10" y="1261.76">20</text><rect x="2107.50" y="1135.37" width="12.30" height="2.30" fill="#1c1c1c"/><text class="cb" x="2127.10" y="1145.27">40</text><rect x="2107.50" y="1018.88" width="12.30" height="2.30" fill="#1c1c1c"/><text class="cb" x="2127.10" y="1028.78">60</text><rect x="2107.50" y="902.39" width="12.30" height="2.30" fill="#1c1c1c"/><text class="cb" x="2127.10" y="912.29">80</text><rect x="2107.50" y="785.90" width="12.30" height="2.30" fill="#1c1c1c"/><text class="cb" x="2127.10" y="795.80">100</text>
<text class="pl" x="1112.85" y="758.45">d</text>
</g>
<g>
<rect x="94.20" y="1514.75" width="138.38" height="97.67" fill="#244582"/><rect x="231.98" y="1514.75" width="138.38" height="97.67" fill="#f1f4f9"/><rect x="369.76" y="1514.75" width="138.38" height="97.67" fill="#f2f5fa"/><rect x="507.54" y="1514.75" width="138.38" height="97.67" fill="#f6f8fc"/><rect x="645.32" y="1514.75" width="138.38" height="97.67" fill="#f6f8fc"/><rect x="783.10" y="1514.75" width="137.78" height="97.67" fill="#f6f8fc"/><rect x="94.20" y="1611.83" width="138.38" height="97.67" fill="#f2f5fa"/><rect x="231.98" y="1611.83" width="138.38" height="97.67" fill="#264986"/><rect x="369.76" y="1611.83" width="138.38" height="97.67" fill="#eff3f9"/><rect x="507.54" y="1611.83" width="138.38" height="97.67" fill="#f6f8fc"/><rect x="645.32" y="1611.83" width="138.38" height="97.67" fill="#f5f7fb"/><rect x="783.10" y="1611.83" width="137.78" height="97.67" fill="#f6f8fc"/><rect x="94.20" y="1708.90" width="138.38" height="97.67" fill="#f1f5f9"/><rect x="231.98" y="1708.90" width="138.38" height="97.67" fill="#f1f5f9"/><rect x="369.76" y="1708.90" width="138.38" height="97.67" fill="#254885"/><rect x="507.54" y="1708.90" width="138.38" height="97.67" fill="#f6f8fc"/><rect x="645.32" y="1708.90" width="138.38" height="97.67" fill="#f5f7fb"/><rect x="783.10" y="1708.90" width="137.78" height="97.67" fill="#f6f8fc"/><rect x="94.20" y="1805.97" width="138.38" height="97.67" fill="#f6f8fc"/><rect x="231.98" y="1805.97" width="138.38" height="97.67" fill="#f6f8fc"/><rect x="369.76" y="1805.97" width="138.38" height="97.67" fill="#f6f8fc"/><rect x="507.54" y="1805.97" width="138.38" height="97.67" fill="#2e589d"/><rect x="645.32" y="1805.97" width="138.38" height="97.67" fill="#dfecf6"/><rect x="783.10" y="1805.97" width="137.78" height="97.67" fill="#f6f8fc"/><rect x="94.20" y="1903.05" width="138.38" height="97.67" fill="#f6f8fc"/><rect x="231.98" y="1903.05" width="138.38" height="97.67" fill="#f6f8fc"/><rect x="369.76" y="1903.05" width="138.38" height="97.67" fill="#f6f8fc"/><rect x="507.54" y="1903.05" width="138.38" height="97.67" fill="#e6f0f8"/><rect x="645.32" y="1903.05" width="138.38" height="97.67" fill="#28508d"/><rect x="783.10" y="1903.05" width="137.78" height="97.67" fill="#f6f8fc"/><rect x="94.20" y="2000.12" width="138.38" height="97.08" fill="#f6f8fc"/><rect x="231.98" y="2000.12" width="138.38" height="97.08" fill="#f6f8fc"/><rect x="369.76" y="2000.12" width="138.38" height="97.08" fill="#f6f8fc"/><rect x="507.54" y="2000.12" width="138.38" height="97.08" fill="#f6f8fc"/><rect x="645.32" y="2000.12" width="138.38" height="97.08" fill="#f6f8fc"/><rect x="783.10" y="2000.12" width="137.78" height="97.08" fill="#1d356f"/>
<text class="an" x="163.09" y="1570.74" fill="#ffffff">94.89%</text><text class="an" x="300.87" y="1570.74" fill="#1c1c1c">2.84%</text><text class="an" x="438.65" y="1570.74" fill="#1c1c1c">2.27%</text><text class="an" x="576.43" y="1570.74" fill="#1c1c1c">0.00%</text><text class="an" x="714.21" y="1570.74" fill="#1c1c1c">0.00%</text><text class="an" x="851.99" y="1570.74" fill="#1c1c1c">0.00%</text>
<text class="an" x="163.09" y="1667.81" fill="#1c1c1c">2.19%</text><text class="an" x="300.87" y="1667.81" fill="#ffffff">93.43%</text><text class="an" x="438.65" y="1667.81" fill="#1c1c1c">3.65%</text><text class="an" x="576.43" y="1667.81" fill="#1c1c1c">0.00%</text><text class="an" x="714.21" y="1667.81" fill="#1c1c1c">0.73%</text><text class="an" x="851.99" y="1667.81" fill="#1c1c1c">0.00%</text>
<text class="an" x="163.09" y="1764.89" fill="#1c1c1c">2.65%</text><text class="an" x="300.87" y="1764.89" fill="#1c1c1c">2.65%</text><text class="an" x="438.65" y="1764.89" fill="#ffffff">94.04%</text><text class="an" x="576.43" y="1764.89" fill="#1c1c1c">0.00%</text><text class="an" x="714.21" y="1764.89" fill="#1c1c1c">0.66%</text><text class="an" x="851.99" y="1764.89" fill="#1c1c1c">0.00%</text>
<text class="an" x="163.09" y="1861.96" fill="#1c1c1c">0.00%</text><text class="an" x="300.87" y="1861.96" fill="#1c1c1c">0.00%</text><text class="an" x="438.65" y="1861.96" fill="#1c1c1c">0.00%</text><text class="an" x="576.43" y="1861.96" fill="#ffffff">88.20%</text><text class="an" x="714.21" y="1861.96" fill="#1c1c1c">11.80%</text><text class="an" x="851.99" y="1861.96" fill="#1c1c1c">0.00%</text>
<text class="an" x="163.09" y="1959.04" fill="#1c1c1c">0.00%</text><text class="an" x="300.87" y="1959.04" fill="#1c1c1c">0.00%</text><text class="an" x="438.65" y="1959.04" fill="#1c1c1c">0.00%</text><text class="an" x="576.43" y="1959.04" fill="#1c1c1c">8.50%</text><text class="an" x="714.21" y="1959.04" fill="#ffffff">91.50%</text><text class="an" x="851.99" y="1959.04" fill="#1c1c1c">0.00%</text>
<text class="an" x="163.09" y="2056.11" fill="#1c1c1c">0.00%</text><text class="an" x="300.87" y="2056.11" fill="#1c1c1c">0.00%</text><text class="an" x="438.65" y="2056.11" fill="#1c1c1c">0.00%</text><text class="an" x="576.43" y="2056.11" fill="#1c1c1c">0.00%</text><text class="an" x="714.21" y="2056.11" fill="#1c1c1c">0.00%</text><text class="an" x="851.99" y="2056.11" fill="#ffffff">100.00%</text>
<text class="tk" x="163.09" y="2137.00">0</text><text class="tk" x="300.87" y="2137.00">1</text><text class="tk" x="438.65" y="2137.00">2</text><text class="tk" x="576.43" y="2137.00">3</text><text class="tk" x="714.21" y="2137.00">4</text><text class="tk" x="851.99" y="2137.00">5</text>
<text class="tk" transform="translate(69.43 1563.29) rotate(-90)" x="0" y="0">0</text><text class="tk" transform="translate(69.43 1660.36) rotate(-90)" x="0" y="0">1</text><text class="tk" transform="translate(69.43 1757.44) rotate(-90)" x="0" y="0">2</text><text class="tk" transform="translate(69.43 1854.51) rotate(-90)" x="0" y="0">3</text><text class="tk" transform="translate(69.43 1951.59) rotate(-90)" x="0" y="0">4</text><text class="tk" transform="translate(69.43 2048.66) rotate(-90)" x="0" y="0">5</text>
<text class="lb" x="507.74" y="2173.50">Predicted class</text>
<text class="lb" transform="translate(34.90 1806.12) rotate(-90)" x="0" y="0">Actual class</text>
<text class="ti" x="507.54" y="1502.83">Confusion matrix for GB</text>
<rect x="973.20" y="1514.75" width="28.60" height="582.45" fill="url(#cbg)"/>
<rect x="1001.80" y="2096.05" width="12.30" height="2.30" fill="#1c1c1c"/><text class="cb" x="1021.40" y="2105.95">0</text><rect x="1001.80" y="1979.56" width="12.30" height="2.30" fill="#1c1c1c"/><text class="cb" x="1021.40" y="1989.46">20</text><rect x="1001.80" y="1863.07" width="12.30" height="2.30" fill="#1c1c1c"/><text class="cb" x="1021.40" y="1872.97">40</text><rect x="1001.80" y="1746.58" width="12.30" height="2.30" fill="#1c1c1c"/><text class="cb" x="1021.40" y="1756.48">60</text><rect x="1001.80" y="1630.09" width="12.30" height="2.30" fill="#1c1c1c"/><text class="cb" x="1021.40" y="1639.99">80</text><rect x="1001.80" y="1513.60" width="12.30" height="2.30" fill="#1c1c1c"/><text class="cb" x="1021.40" y="1523.50">100</text>
<text class="pl" x="-0.14" y="1486.15">e</text>
</g>
<g>
<rect x="1199.90" y="1514.75" width="138.38" height="97.67" fill="#223f7b"/><rect x="1337.68" y="1514.75" width="138.38" height="97.67" fill="#f2f5fa"/><rect x="1475.46" y="1514.75" width="138.38" height="97.67" fill="#f4f7fb"/><rect x="1613.24" y="1514.75" width="138.38" height="97.67" fill="#f6f8fc"/><rect x="1751.02" y="1514.75" width="138.38" height="97.67" fill="#f6f8fc"/><rect x="1888.80" y="1514.75" width="137.78" height="97.67" fill="#f6f8fc"/><rect x="1199.90" y="1611.83" width="138.38" height="97.67" fill="#f1f4f9"/><rect x="1337.68" y="1611.83" width="138.38" height="97.67" fill="#264986"/><rect x="1475.46" y="1611.83" width="138.38" height="97.67" fill="#eff3f9"/><rect x="1613.24" y="1611.83" width="138.38" height="97.67" fill="#f6f8fc"/><rect x="1751.02" y="1611.83" width="138.38" height="97.67" fill="#f6f8fc"/><rect x="1888.80" y="1611.83" width="137.78" height="97.67" fill="#f6f8fc"/><rect x="1199.90" y="1708.90" width="138.38" height="97.67" fill="#f4f6fb"/><rect x="1337.68" y="1708.90" width="138.38" height="97.67" fill="#eef3f9"/><rect x="1475.46" y="1708.90" width="138.38" height="97.67" fill="#244582"/><rect x="1613.24" y="1708.90" width="138.38" height="97.67" fill="#f6f8fc"/><rect x="1751.02" y="1708.90" width="138.38" height="97.67" fill="#f6f8fc"/><rect x="1888.80" y="1708.90" width="137.78" height="97.67" fill="#f6f8fc"/><rect x="1199.90" y="1805.97" width="138.38" height="97.67" fill="#f6f8fc"/><rect x="1337.68" y="1805.97" width="138.38" height="97.67" fill="#f5f7fb"/><rect x="1475.46" y="1805.97" width="138.38" height="97.67" fill="#f6f8fc"/><rect x="1613.24" y="1805.97" width="138.38" height="97.67" fill="#2e589d"/><rect x="1751.02" y="1805.97" width="138.38" height="97.67" fill="#e0edf6"/><rect x="1888.80" y="1805.97" width="137.78" height="97.67" fill="#f6f8fc"/><rect x="1199.90" y="1903.05" width="138.38" height="97.67" fill="#f6f8fc"/><rect x="1337.68" y="1903.05" width="138.38" height="97.67" fill="#f6f8fc"/><rect x="1475.46" y="1903.05" width="138.38" height="97.67" fill="#f6f8fc"/><rect x="1613.24" y="1903.05" width="138.38" height="97.67" fill="#e6f0f8"/><rect x="1751.02" y="1903.05" width="138.38" height="97.67" fill="#28508d"/><rect x="1888.80" y="1903.05" width="137.78" height="97.67" fill="#f6f8fc"/><rect x="1199.90" y="2000.12" width="138.38" height="97.08" fill="#f6f8fc"/><rect x="1337.68" y="2000.12" width="138.38" height="97.08" fill="#f6f8fc"/><rect x="1475.46" y="2000.12" width="138.38" height="97.08" fill="#f6f8fc"/><rect x="1613.24" y="2000.12" width="138.38" height="97.08" fill="#f6f8fc"/><rect x="1751.02" y="2000.12" width="138.38" height="97.08" fill="#f6f8fc"/><rect x="1888.80" y="2000.12" width="137.78" height="97.08" fill="#1d356f"/>
<text class="an" x="1268.79" y="1570.74" fill="#ffffff">96.59%</text><text class="an" x="1406.57" y="1570.74" fill="#1c1c1c">2.27%</text><text class="an" x="1544.35" y="1570.74" fill="#1c1c1c">1.14%</text><text class="an" x="1682.13" y="1570.74" fill="#1c1c1c">0.00%</text><text class="an" x="1819.91" y="1570.74" fill="#1c1c1c">0.00%</text><text class="an" x="1957.69" y="1570.74" fill="#1c1c1c">0.00%</text>
<text class="an" x="1268.79" y="1667.81" fill="#1c1c1c">2.92%</text><text class="an" x="1406.57" y="1667.81" fill="#ffffff">93.43%</text><text class="an" x="1544.35" y="1667.81" fill="#1c1c1c">3.65%</text><text class="an" x="1682.13" y="1667.81" fill="#1c1c1c">0.00%</text><text class="an" x="1819.91" y="1667.81" fill="#1c1c1c">0.00%</text><text class="an" x="1957.69" y="1667.81" fill="#1c1c1c">0.00%</text>
<text class="an" x="1268.79" y="1764.89" fill="#1c1c1c">1.32%</text><text class="an" x="1406.57" y="1764.89" fill="#1c1c1c">3.97%</text><text class="an" x="1544.35" y="1764.89" fill="#ffffff">94.70%</text><text class="an" x="1682.13" y="1764.89" fill="#1c1c1c">0.00%</text><text class="an" x="1819.91" y="1764.89" fill="#1c1c1c">0.00%</text><text class="an" x="1957.69" y="1764.89" fill="#1c1c1c">0.00%</text>
<text class="an" x="1268.79" y="1861.96" fill="#1c1c1c">0.00%</text><text class="an" x="1406.57" y="1861.96" fill="#1c1c1c">0.56%</text><text class="an" x="1544.35" y="1861.96" fill="#1c1c1c">0.00%</text><text class="an" x="1682.13" y="1861.96" fill="#ffffff">88.20%</text><text class="an" x="1819.91" y="1861.96" fill="#1c1c1c">11.24%</text><text class="an" x="1957.69" y="1861.96" fill="#1c1c1c">0.00%</text>
<text class="an" x="1268.79" y="1959.04" fill="#1c1c1c">0.00%</text><text class="an" x="1406.57" y="1959.04" fill="#1c1c1c">0.00%</text><text class="an" x="1544.35" y="1959.04" fill="#1c1c1c">0.00%</text><text class="an" x="1682.13" y="1959.04" fill="#1c1c1c">8.50%</text><text class="an" x="1819.91" y="1959.04" fill="#ffffff">91.50%</text><text class="an" x="1957.69" y="1959.04" fill="#1c1c1c">0.00%</text>
<text class="an" x="1268.79" y="2056.11" fill="#1c1c1c">0.00%</text><text class="an" x="1406.57" y="2056.11" fill="#1c1c1c">0.00%</text><text class="an" x="1544.35" y="2056.11" fill="#1c1c1c">0.00%</text><text class="an" x="1682.13" y="2056.11" fill="#1c1c1c">0.00%</text><text class="an" x="1819.91" y="2056.11" fill="#1c1c1c">0.00%</text><text class="an" x="1957.69" y="2056.11" fill="#ffffff">100.00%</text>
<text class="tk" x="1268.79" y="2137.00">0</text><text class="tk" x="1406.57" y="2137.00">1</text><text class="tk" x="1544.35" y="2137.00">2</text><text class="tk" x="1682.13" y="2137.00">3</text><text class="tk" x="1819.91" y="2137.00">4</text><text class="tk" x="1957.69" y="2137.00">5</text>
<text class="tk" transform="translate(1175.13 1563.29) rotate(-90)" x="0" y="0">0</text><text class="tk" transform="translate(1175.13 1660.36) rotate(-90)" x="0" y="0">1</text><text class="tk" transform="translate(1175.13 1757.44) rotate(-90)" x="0" y="0">2</text><text class="tk" transform="translate(1175.13 1854.51) rotate(-90)" x="0" y="0">3</text><text class="tk" transform="translate(1175.13 1951.59) rotate(-90)" x="0" y="0">4</text><text class="tk" transform="translate(1175.13 2048.66) rotate(-90)" x="0" y="0">5</text>
<text class="lb" x="1613.44" y="2173.50">Predicted class</text>
<text class="lb" transform="translate(1140.60 1806.12) rotate(-90)" x="0" y="0">Actual class</text>
<text class="ti" x="1613.24" y="1502.83">Confusion matrix for XGB</text>
<rect x="2078.90" y="1514.75" width="28.60" height="582.45" fill="url(#cbg)"/>
<rect x="2107.50" y="2096.05" width="12.30" height="2.30" fill="#1c1c1c"/><text class="cb" x="2127.10" y="2105.95">0</text><rect x="2107.50" y="1979.56" width="12.30" height="2.30" fill="#1c1c1c"/><text class="cb" x="2127.10" y="1989.46">20</text><rect x="2107.50" y="1863.07" width="12.30" height="2.30" fill="#1c1c1c"/><text class="cb" x="2127.10" y="1872.97">40</text><rect x="2107.50" y="1746.58" width="12.30" height="2.30" fill="#1c1c1c"/><text class="cb" x="2127.10" y="1756.48">60</text><rect x="2107.50" y="1630.09" width="12.30" height="2.30" fill="#1c1c1c"/><text class="cb" x="2127.10" y="1639.99">80</text><rect x="2107.50" y="1513.60" width="12.30" height="2.30" fill="#1c1c1c"/><text class="cb" x="2127.10" y="1523.50">100</text>
<text class="pl" x="1112.85" y="1486.15">f</text>
</g>
</svg>
</body></html>
